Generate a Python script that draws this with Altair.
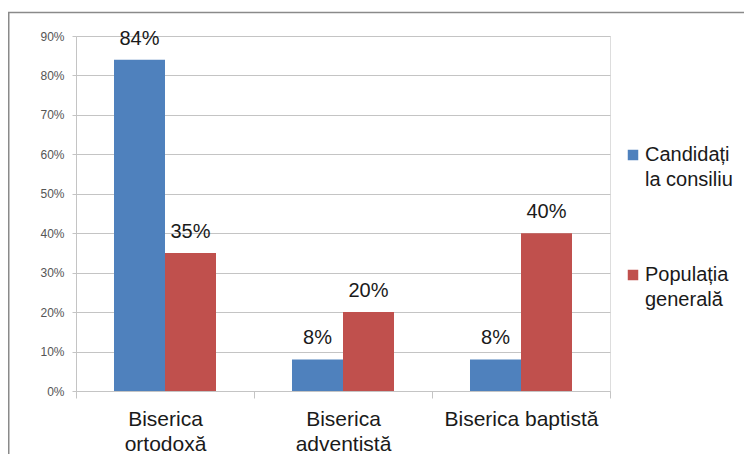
import altair as alt
import pandas as pd

categories = ["Biserica ortodoxă", "Biserica adventistă", "Biserica baptistă"]
series = ["Candidați la consiliu", "Populația generală"]
candidati = [0.84, 0.08, 0.08]
populatia = [0.35, 0.20, 0.40]
colors = ["#4F81BD", "#C0504D"]
y_ticks = [0.0, 0.1, 0.2, 0.3, 0.4, 0.5, 0.6, 0.7, 0.8, 0.9]

rows = []
for i, c in enumerate(categories):
    rows.append({"cat": c, "series": series[0], "value": candidati[i]})
    rows.append({"cat": c, "series": series[1], "value": populatia[i]})
df = pd.DataFrame(rows)

FONT = "Liberation Sans"
GRID = "#c4c4c4"

x_enc = alt.X(
    "cat:N",
    sort=categories,
    scale=alt.Scale(paddingInner=0, paddingOuter=0),
    axis=alt.Axis(
        title=None,
        labelAngle=0,
        labelFont=FONT,
        labelFontSize=21,
        labelColor="#1a1a1a",
        labelLineHeight=25,
        labelBaseline="top",
        labelPadding=10,
        labelLimit=400,
        labelExpr="datum.label == 'Biserica baptistă' ? datum.label : split(datum.label, ' ')",
        tickBand="extent",
        tickSize=7,
        tickColor=GRID,
        domainColor=GRID,
        grid=False,
    ),
)
xoff_enc = alt.XOffset(
    "series:N", sort=series, scale=alt.Scale(paddingInner=0, paddingOuter=0.745)
)
y_enc = alt.Y(
    "value:Q",
    scale=alt.Scale(domain=[0, 0.9], nice=False),
    axis=alt.Axis(
        title=None,
        values=y_ticks,
        tickCount=10,
        format=".0%",
        labelFont=FONT,
        labelFontSize=12,
        labelColor="#555555",
        labelPadding=8,
        labelOverlap=False,
        tickSize=4,
        tickColor=GRID,
        domainColor=GRID,
        gridColor=GRID,
        grid=True,
    ),
)
color_enc = alt.Color(
    "series:N",
    sort=series,
    scale=alt.Scale(domain=series, range=colors),
    legend=alt.Legend(
        title=None,
        orient="none",
        legendX=547,
        legendY=109,
        symbolType="square",
        symbolSize=110,
        symbolStrokeWidth=0,
        symbolOpacity=1,
        labelFont=FONT,
        labelFontSize=20,
        labelColor="#1a1a1a",
        labelBaseline="middle",
        labelOffset=2,
        labelLimit=300,
        rowPadding=75,
        labelExpr="datum.label == 'Candidați la consiliu' ? ['Candidați', 'la consiliu'] : ['Populația', 'generală']",
    ),
)

frame = alt.Chart(pd.DataFrame({"f": [0]})).mark_rect(
    fill=None, fillOpacity=0, stroke="#8a8a8a", strokeWidth=1.5
).encode(
    x=alt.value(-67.25), x2=alt.value(760), y=alt.value(-23.5), y2=alt.value(600)
)

base = alt.Chart(df)
bars = base.mark_bar(opacity=1).encode(x=x_enc, xOffset=xoff_enc, y=y_enc, color=color_enc)
labels = base.mark_text(
    font=FONT, fontSize=20, color="#1a1a1a", dy=-15, baseline="alphabetic", align="center"
).encode(
    x=x_enc,
    xOffset=xoff_enc,
    y=y_enc,
    text=alt.Text("value:Q", format=".0%"),
)

chart = (
    alt.layer(frame, bars, labels)
    .properties(
        width=534,
        height=355,
        autosize=alt.AutoSizeParams(type="none"),
        padding={"left": 68, "top": 28, "right": 134, "bottom": 63},
        background="white",
    )
    .configure_view(stroke=None)
    .configure(style={"guide-label": {"lineHeight": 25}})
)

chart.save("out.html", embed_options={"renderer": "svg", "actions": False})
